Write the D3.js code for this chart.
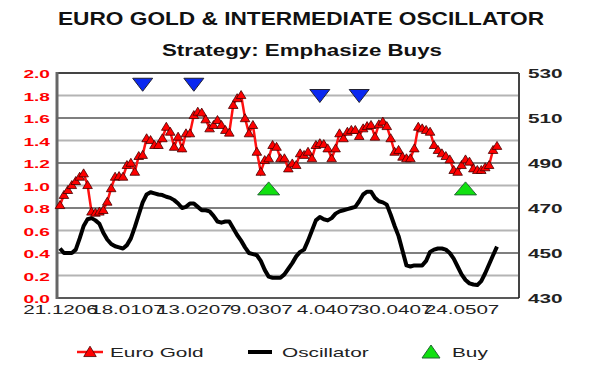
<!DOCTYPE html>
<html>
<head>
<meta charset="utf-8">
<script src="https://cdn.jsdelivr.net/npm/d3@7"></script>
<style>
  body { margin: 0; background: #fff; }
  svg { display: block; font-family: "Liberation Sans", Arial, sans-serif; }
</style>
</head>
<body>
<div id="chart"></div>
<script>
// euro gold price (right axis), one value per trading day
var gold = [471.3, 475.8, 478, 480.2, 482, 483.9, 485.4, 480.2, 468.4, 467.9, 468.4, 469.1, 472.8, 478.8, 483.9, 484.2,
  483.9, 489.1, 490.1, 486.1, 493.1, 493.6, 501, 500.2, 498, 498, 501, 506.1, 503.9, 497.2, 501.7,
  496.5, 503.2, 503.2, 511.3, 512.8, 512.4, 509.4, 505.4, 506.9, 509.1, 506.9, 504.7, 503.5, 515.8, 518.8,
  520.2, 509.9, 503.2, 506.9, 495, 486.1, 491.3, 492.1, 498, 497.2, 492.1, 492.1, 487.6, 489.8, 489.1, 494.3,
  493.6, 495, 492.1, 498, 498.8, 498.4, 496.5, 492.1, 496.5, 503.2, 501, 503.9, 504.7, 504.7, 502, 505.4,
  506.4, 506.9, 501.7, 507.2, 508.4, 506.4, 501, 495, 495.8, 492.8,
  492.1, 492.1, 496.5, 506.1, 505.4, 504.7, 503.9, 498, 495.8, 494.3, 493.1, 491.6, 486.9, 486.1, 489.1,
  491.6, 490.6, 487.6, 486.9, 486.9, 488.1, 489.1, 495.8, 497.6];
// intermediate oscillator (left axis)
var oscillator = [0.44, 0.40, 0.40, 0.40, 0.43, 0.53, 0.64, 0.70, 0.71, 0.69, 0.66, 0.58, 0.52, 0.48, 0.46, 0.45,
  0.44, 0.47, 0.53, 0.63, 0.74, 0.85, 0.92, 0.94, 0.93, 0.92, 0.915, 0.90, 0.89, 0.87, 0.84, 0.80,
  0.81, 0.84, 0.84, 0.81, 0.78, 0.78, 0.77, 0.73, 0.68, 0.67, 0.68, 0.68, 0.62, 0.56, 0.51, 0.45,
  0.40, 0.39, 0.38, 0.33, 0.25, 0.19, 0.18, 0.18, 0.18, 0.21, 0.26, 0.31, 0.37, 0.41, 0.43, 0.51,
  0.60, 0.69, 0.72, 0.70, 0.69, 0.71, 0.75, 0.77, 0.78, 0.79, 0.80, 0.81, 0.86, 0.92, 0.945, 0.945,
  0.89, 0.86, 0.85, 0.83, 0.74, 0.64, 0.55, 0.42, 0.29, 0.28, 0.29, 0.29, 0.29, 0.33, 0.41, 0.43,
  0.44, 0.44, 0.43, 0.40, 0.35, 0.28, 0.21, 0.16, 0.13, 0.12, 0.115, 0.15, 0.22, 0.30, 0.38, 0.456];
// signals: [day index, level on left axis]
var sells = [[21, 1.9], [34, 1.9], [66, 1.8], [76, 1.8]];
var buys = [[53, 0.97], [103, 0.97]];
var dateLabels = ['21.1206', '18.0107', '13.0207', '9.0307', '4.0407', '30.0407', '24.0507'];
var labelStep = 17;
var leftTicks = [0, 0.2, 0.4, 0.6, 0.8, 1.0, 1.2, 1.4, 1.6, 1.8, 2.0];
var rightTicks = [430, 450, 470, 490, 510, 530];

var W = 600, H = 373;
var SX = 1.65; // glyphs in the source are stretched sideways
var plot = {left: 57, right: 519, top: 73, bottom: 298};

var svg = d3.select('#chart').append('svg').attr('width', W).attr('height', H);

var x = d3.scaleLinear().domain([0, gold.length - 1]).range([60, 497]);
var yL = d3.scaleLinear().domain([0, 2]).range([plot.bottom, plot.top]);
var yR = d3.scaleLinear().domain([430, 530]).range([plot.bottom, plot.top]);

// titles
svg.append('text').attr('x', 301).attr('y', 25).attr('text-anchor', 'middle')
  .attr('font-size', 18).attr('font-weight', 'bold').attr('fill', '#111')
  .attr('textLength', 486).attr('lengthAdjust', 'spacingAndGlyphs')
  .text('EURO GOLD & INTERMEDIATE OSCILLATOR');
svg.append('text').attr('x', 302).attr('y', 56).attr('text-anchor', 'middle')
  .attr('font-size', 16).attr('font-weight', 'bold').attr('fill', '#111')
  .attr('textLength', 280).attr('lengthAdjust', 'spacingAndGlyphs')
  .text('Strategy: Emphasize Buys');

// gridlines, dark ones line up with right-axis ticks
var grid = svg.append('g');
leftTicks.slice(1, -1).forEach(function (v, i) {
  var dark = (i % 2 == 1);
  grid.append('line').attr('x1', plot.left).attr('x2', plot.right)
    .attr('y1', yL(v)).attr('y2', yL(v))
    .attr('stroke', dark ? '#555' : '#b4b4b4').attr('stroke-width', dark ? 1.5 : 2);
});

// frame
svg.append('line').attr('x1', plot.left).attr('x2', plot.right).attr('y1', plot.top).attr('y2', plot.top).attr('stroke', '#444').attr('stroke-width', 2);
svg.append('line').attr('x1', plot.right).attr('x2', plot.right).attr('y1', plot.top).attr('y2', plot.bottom).attr('stroke', '#444').attr('stroke-width', 2);
svg.append('line').attr('x1', plot.left).attr('x2', plot.right).attr('y1', plot.bottom).attr('y2', plot.bottom).attr('stroke', '#222').attr('stroke-width', 1.5);
svg.append('line').attr('x1', plot.left).attr('x2', plot.left).attr('y1', plot.top - 1).attr('y2', plot.bottom + 1).attr('stroke', '#666').attr('stroke-width', 3);

// axes
var leftAxis = svg.append('g').attr('transform', 'translate(' + (plot.left - 7) + ',0)')
  .call(d3.axisLeft(yL).tickValues(leftTicks).tickFormat(d3.format('.1f')).tickSize(0).tickPadding(0));
leftAxis.select('.domain').remove();
leftAxis.selectAll('text').attr('x', 0).attr('dy', null).attr('y', 4.5)
  .attr('transform', 'scale(' + SX + ',1)')
  .attr('font-size', 11.6).attr('font-weight', 'bold').attr('fill', '#ff0000')
  .attr('font-family', null);

var rightAxis = svg.append('g').attr('transform', 'translate(' + (plot.right + 9) + ',0)')
  .call(d3.axisRight(yR).tickValues(rightTicks).tickSize(0).tickPadding(0));
rightAxis.select('.domain').remove();
rightAxis.selectAll('text').attr('x', 0).attr('dy', null).attr('y', 4.5)
  .attr('transform', 'scale(' + SX + ',1)')
  .attr('font-size', 12.6).attr('font-weight', 'bold').attr('fill', '#222')
  .attr('font-family', null);

var bottomAxis = svg.append('g').attr('transform', 'translate(0,' + plot.bottom + ')')
  .call(d3.axisBottom(x).tickValues(dateLabels.map(function (d, i) { return i * labelStep; }))
    .tickFormat(function (d) { return dateLabels[d / labelStep]; }).tickSize(0).tickPadding(0));
bottomAxis.select('.domain').remove();
bottomAxis.selectAll('text').attr('y', 0).attr('dy', null)
  .attr('transform', 'translate(0,16) scale(' + SX + ',1)')
  .attr('font-size', 12.5).attr('fill', '#222').attr('font-family', null);

// oscillator
svg.append('path').datum(oscillator)
  .attr('d', d3.line().x(function (d, i) { return x(i); }).y(function (d) { return yL(d); }))
  .attr('fill', 'none').attr('stroke', '#000').attr('stroke-width', 4).attr('stroke-linejoin', 'round');

// euro gold
svg.append('path').datum(gold)
  .attr('d', d3.line().x(function (d, i) { return x(i); }).y(function (d) { return yR(d); }))
  .attr('fill', 'none').attr('stroke', '#ff1010').attr('stroke-width', 2.5);
var upSmall = 'M0,-4.5L4.8,3.5L-4.8,3.5Z';
svg.append('g').selectAll('path').data(gold).enter().append('path')
  .attr('d', upSmall)
  .attr('transform', function (d, i) { return 'translate(' + x(i) + ',' + yR(d) + ')'; })
  .attr('fill', '#ff0000').attr('stroke', '#400').attr('stroke-width', 0.8);

// signals
svg.append('g').selectAll('path').data(sells).enter().append('path')
  .attr('d', 'M-10,-6L10,-6L0,7Z')
  .attr('transform', function (d) { return 'translate(' + x(d[0]) + ',' + yL(d[1]) + ')'; })
  .attr('fill', '#0a28f0').attr('stroke', '#223').attr('stroke-width', 1);
svg.append('g').selectAll('path').data(buys).enter().append('path')
  .attr('d', 'M0,-7L11,6L-11,6Z')
  .attr('transform', function (d) { return 'translate(' + x(d[0]) + ',' + yL(d[1]) + ')'; })
  .attr('fill', '#10e010').attr('stroke', '#263').attr('stroke-width', 1);

// legend
var legend = svg.append('g').attr('transform', 'translate(0,352)');
legend.append('line').attr('x1', 77).attr('x2', 103).attr('stroke', '#ff1010').attr('stroke-width', 2.5);
legend.append('path').attr('d', upSmall).attr('transform', 'translate(90,0) scale(1.3)')
  .attr('fill', '#ff0000').attr('stroke', '#400').attr('stroke-width', 0.6);
legend.append('line').attr('x1', 248).attr('x2', 272).attr('stroke', '#000').attr('stroke-width', 4);
legend.append('path').attr('d', 'M0,-7L9,6L-9,6Z').attr('transform', 'translate(431,0)')
  .attr('fill', '#10e010').attr('stroke', '#263').attr('stroke-width', 1);
[['Euro Gold', 110], ['Oscillator', 282], ['Buy', 452]].forEach(function (item) {
  legend.append('text').attr('transform', 'translate(' + item[1] + ',4.5) scale(1.6,1)')
    .attr('font-size', 13).attr('fill', '#222').text(item[0]);
});
</script>
</body>
</html>
